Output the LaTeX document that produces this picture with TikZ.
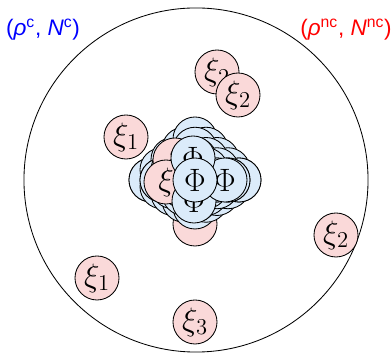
\documentclass[tikz,border=0pt]{standalone}
\usepackage{fix-cm}
\usepackage{fontspec}
\newfontfamily\lblfont{Liberation Sans}
\begin{document}
\begin{tikzpicture}[x=0.025cm,y=-0.025cm,line join=round,line width=0.6pt]
  \definecolor{xipink}{rgb}{0.98,0.85,0.85}
  \definecolor{phiblue}{rgb}{0.86,0.92,0.98}
  \tikzset{
    ball/.style={circle,draw=black,inner sep=0pt,minimum size=1.1cm,
      font=\fontsize{23}{28}\selectfont},
    xi/.style={ball,fill=xipink},
    phi/.style={ball,fill=phiblue},
    tag/.style={font=\lblfont\fontsize{16}{19}\selectfont}
  }
  \useasboundingbox (0,0) rectangle (391,353);
  %===============================
  \node[circle,draw,minimum size=8.6cm] (vessel) at (196,180) {};
  \node[tag,text=blue] (cstate) at (43,30) {(\textit{ρ}\textsuperscript{c}, \textit{N}\textsuperscript{c})};
  \node[tag,text=red] (ncstate) at (346,30) {(\textit{ρ}\textsuperscript{nc}, \textit{N}\textsuperscript{nc})};
  % free particles
  \node[xi] (xiA) at (126,137) {$\xi_1$};
  \node[xi] (xiB) at (217,72) {$\xi_2$};
  \node[xi] (xiC) at (238,95) {$\xi_2$};
  \node[xi] (xiD) at (336,235) {$\xi_2$};
  \node[xi] (xiE) at (97,278) {$\xi_1$};
  \node[xi] (xiF) at (195,322) {$\xi_3$};
  % cluster
  \node[xi] (xiback) at (195,224) {};
  \foreach \k in {4,3,2}{
    \foreach \i in {-\k,...,\k}{
      \pgfmathtruncatemacro\r{\k-abs(\i)}
      \foreach \s in {-1,1}{
        \pgfmathsetmacro\yy{180+((\s<0)?-10.25:6.75)*\r}
        \filldraw[fill=phiblue] (195+11*\i,\yy) circle (22);
      }
    }
  }
  \node[xi] (xitop) at (175,160) {$\xi$};
  \node[xi] (xileft) at (166,182) {$\xi$};
  \node[phi] (phibot) at (194,201) {$\Phi$};
  \node[phi] (phiright) at (225,180) {$\Phi$};
  \node[phi] (phitop) at (193,158) {$\Phi$};
  \node[phi] (phimid) at (195,180) {$\Phi$};
\end{tikzpicture}
\end{document}
